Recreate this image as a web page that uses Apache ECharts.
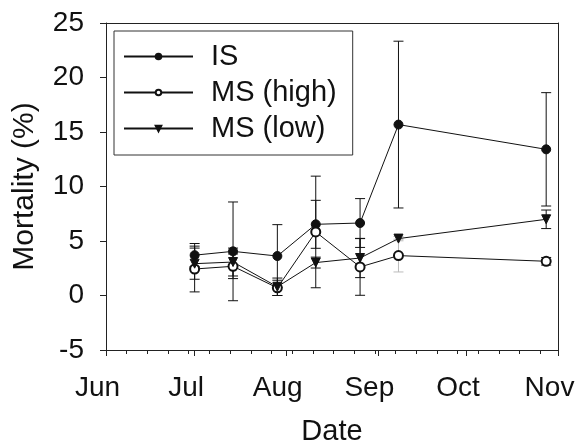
<!DOCTYPE html>
<html>
<head>
<meta charset="utf-8">
<script src="https://cdn.jsdelivr.net/npm/echarts@6/dist/echarts.min.js"></script>
<style>
  html, body { margin: 0; padding: 0; background: #fff; }
  #chart { width: 578px; height: 445px; }
</style>
</head>
<body>
<div id="chart"></div>
<script>
// month ticks and sample dates (month-day, one season)
const monthNames = ["Jun", "Jul", "Aug", "Sep", "Oct", "Nov"];
const monthStarts = ["06-01", "07-01", "08-01", "09-01", "10-01", "11-01"];
const sampleDates = ["07-01", "07-14", "07-29", "08-11", "08-26", "09-08", "10-28"];

// mortality (%) and error bar half-widths
const isMean = [3.7, 4.05, 3.62, 6.53, 6.65, 15.68, 13.41];
const isErr = [1.07, 4.53, 2.88, 2.2, 2.24, 7.65, 5.2];
const highMean = [2.43, 2.68, 0.7, 5.83, 2.62, 3.66, 3.14];
const highErr = [2.1, 1.13, 0.7, 5.12, 2.6, 1.5, 0.35];
const lowMean = [2.92, 3.07, 0.8, 3.02, 3.44, 5.22, 6.99];
const lowErr = [1.43, 1.28, 0.8, 0.5, 1.8, 0.2, 0.85];

const FONT = "Liberation Sans, Arial, sans-serif";
const INK = "#111";
const AXIS = "#222";

// days since Jun 1
const dayOf = (md) =>
  (Date.UTC(2000, +md.slice(0, 2) - 1, +md.slice(3)) - Date.UTC(2000, 5, 1)) / 86400000;
const days = sampleDates.map(dayOf);
const monthDays = monthStarts.map(dayOf);
const lastDay = monthDays[monthDays.length - 1];
const weekDays = [];
for (let d = 7; d < lastDay; d += 7) weekDays.push(d);

function lineSeries(name, mean, symbol, extra) {
  return Object.assign({
    name: name,
    type: "line",
    xAxisIndex: 0,
    yAxisIndex: 0,
    data: mean.map((m, i) => [days[i], m]),
    symbol: symbol,
    symbolSize: 9,
    z: 3,
    lineStyle: { color: INK, width: 1 },
    itemStyle: { color: INK, borderColor: INK, borderWidth: 1 },
  }, extra || {});
}

// error bars drawn with a custom series
function errSeries(name, mean, err, greyIndex) {
  return {
    name: name + " err",
    type: "custom",
    xAxisIndex: 0,
    yAxisIndex: 0,
    z: 2,
    data: mean.map((m, i) => [days[i], m - err[i], m + err[i]]),
    encode: { x: 0, y: [1, 2] },
    renderItem: (params, api) => {
      const lo = api.coord([api.value(0), api.value(1)]);
      const hi = api.coord([api.value(0), api.value(2)]);
      const w = 5;
      const st = { stroke: params.dataIndex === greyIndex ? "#bbb" : INK, lineWidth: 1 };
      return {
        type: "group",
        children: [
          { type: "line", shape: { x1: lo[0], y1: lo[1], x2: hi[0], y2: hi[1] }, style: st },
          { type: "line", shape: { x1: lo[0] - w, y1: lo[1], x2: lo[0] + w, y2: lo[1] }, style: st },
          { type: "line", shape: { x1: hi[0] - w, y1: hi[1], x2: hi[0] + w, y2: hi[1] }, style: st },
        ],
      };
    },
  };
}

// plain frame line for the top / right sides
const frameAxis = (pos) => ({
  type: "value", min: 0, max: 1, position: pos,
  axisLine: { show: true, onZero: false, lineStyle: { color: AXIS, width: 1 } },
  axisTick: { show: false }, axisLabel: { show: false }, splitLine: { show: false },
});

const chart = echarts.init(document.getElementById("chart"));
chart.setOption({
  animation: false,
  backgroundColor: "#fff",
  grid: { left: 106, right: 20, top: 23, bottom: 95, outerBoundsMode: "none", containLabel: false },
  legend: {
    data: ["IS", "MS (high)", "MS (low)"],
    orient: "vertical",
    left: 114, top: 31,
    itemWidth: 69, itemHeight: 7, itemGap: 7,
    padding: [11, 16, 12, 9],
    borderColor: "#333", borderWidth: 1,
    textStyle: { fontSize: 29, color: INK, fontFamily: FONT, padding: [0, 0, 0, 13] },
  },
  xAxis: [
    {
      type: "value", min: 0, max: lastDay, position: "bottom",
      name: "Date", nameLocation: "middle", nameGap: 67,
      nameTextStyle: { fontSize: 29, color: INK, fontFamily: FONT },
      axisLine: { onZero: false, lineStyle: { color: AXIS, width: 1 } },
      axisTick: { customValues: monthDays, length: 6, lineStyle: { color: AXIS } },
      axisLabel: {
        customValues: monthDays, margin: 24, fontSize: 28, color: INK, fontFamily: FONT,
        padding: [0, 17, 0, 0],
        formatter: (v) => monthNames[monthDays.indexOf(v)],
      },
      splitLine: { show: false },
    },
    {
      type: "value", min: 0, max: lastDay, position: "bottom",
      axisLine: { show: false, onZero: false },
      axisTick: { customValues: weekDays, length: 4, lineStyle: { color: AXIS } },
      axisLabel: { show: false },
      splitLine: { show: false },
    },
    frameAxis("top"),
  ],
  yAxis: [
    {
      type: "value", min: -5, max: 25, interval: 5,
      name: "Mortality (%)", nameLocation: "middle", nameGap: 66, nameRotate: 90,
      nameTextStyle: { fontSize: 30, color: INK, fontFamily: FONT },
      axisLine: { show: true, onZero: false, lineStyle: { color: AXIS, width: 1 } },
      axisTick: { show: true, length: 6, lineStyle: { color: AXIS } },
      axisLabel: { margin: 22, fontSize: 28, color: INK, fontFamily: FONT },
      splitLine: { show: false },
    },
    frameAxis("right"),
  ],
  series: [
    errSeries("IS", isMean, isErr, -1),
    errSeries("MS (high)", highMean, highErr, 5),
    errSeries("MS (low)", lowMean, lowErr, 5),
    lineSeries("IS", isMean, "circle"),
    lineSeries("MS (high)", highMean, "emptyCircle"),
    lineSeries("MS (low)", lowMean, "triangle", { symbolRotate: 180 }),
  ],
});
</script>
</body>
</html>
